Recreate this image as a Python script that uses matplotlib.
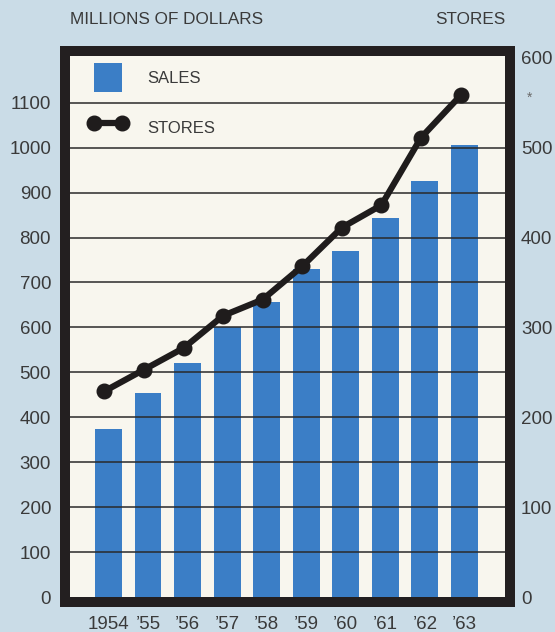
import numpy as np
import matplotlib.pyplot as plt
from matplotlib.legend_handler import HandlerLine2D

# valores
years = ['1954', '’55', '’56', '’57', '’58', '’59', '’60', '’61', '’62', '’63']
sales = [374, 455, 520, 601, 656, 731, 771, 844, 926, 1006]   # milhões de dólares
stores = [229, 253, 277, 313, 331, 368, 411, 436, 511, 558]   # lojas
sales_ticks = list(range(0, 1200, 100))
store_ticks = list(range(0, 700, 100))

BG = '#cadce7'
PANEL = '#f8f6ee'
BLUE = '#3b7ec6'
FRAME = '#231f20'
TXT = '#3a3a3a'

plt.rcParams['font.family'] = ['Liberation Sans', 'DejaVu Sans']

fig = plt.figure(figsize=(5.55, 6.32), dpi=100, facecolor=BG)
ax = fig.add_axes([0.1171, 0.0475, 0.8018, 0.8718])
ax.set_facecolor(PANEL)

x = np.arange(len(years))
bars = ax.bar(x, sales, width=0.68, color=BLUE, zorder=1, label='SALES')
for v in sales_ticks[1:]:
    ax.axhline(v, color='#2a2a2a', lw=1.1, zorder=2)

ax.set_xlim(-1.097, 10.15)
ax.set_ylim(-11, 1215)
ax.set_yticks(sales_ticks)
ax.set_xticks(x, years)
ax.tick_params(axis='y', length=0, labelsize=13.5, colors=TXT, pad=10)
ax.tick_params(axis='x', length=0, labelsize=13.5, colors=TXT, pad=10)
for s in ax.spines.values():
    s.set_linewidth(7.2)
    s.set_color(FRAME)

# --- eixo da direita: lojas ---
ax2 = ax.twinx()
ax2.set_ylim(-5.5, 607.5)
line, = ax2.plot(x - 0.1, stores, color='#1f1c1c', lw=4.5, marker='o', ms=10.5,
                 mec='#1f1c1c', label='STORES', zorder=3)
ax2.set_yticks(store_ticks)
ax2.tick_params(axis='y', length=0, labelsize=13.5, colors=TXT, pad=8)
for s in ax2.spines.values():
    s.set_linewidth(7.2)
    s.set_color(FRAME)

ax2.legend(handles=[bars, line], labels=['SALES', 'STORES'], loc='upper left',
           bbox_to_anchor=(0.065, 0.978), frameon=False, fontsize=12,
           handlelength=1.68, handleheight=2.3, labelspacing=1.26,
           handletextpad=1.55, borderpad=0, borderaxespad=0, labelcolor=TXT,
           handler_map={line: HandlerLine2D(numpoints=2, marker_pad=0)})

fig.text(70 / 555, 1 - 20 / 632, 'MILLIONS OF DOLLARS', ha='left', va='center',
         fontsize=12.3, color=TXT)
fig.text(505 / 555, 1 - 20 / 632, 'STORES', ha='right', va='center',
         fontsize=12.3, color=TXT)
fig.text(530 / 555, 1 - 98 / 632, '*', ha='center', va='center',
         fontsize=10, color='#6a6a6a')

fig.savefig('out.png', dpi=100, facecolor=BG)
